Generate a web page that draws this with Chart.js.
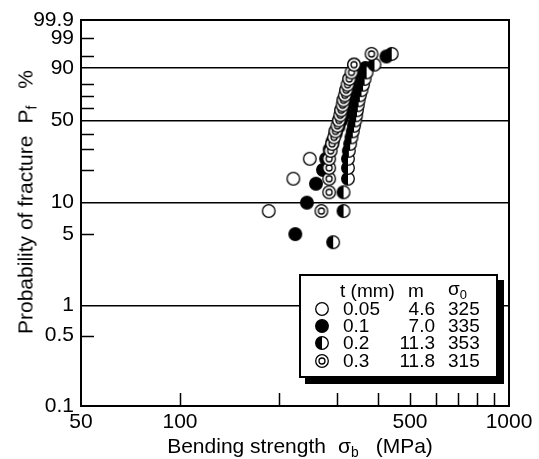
<!DOCTYPE html>
<html><head><meta charset="utf-8">
<script src="https://cdn.jsdelivr.net/npm/chart.js@4.4.1/dist/chart.umd.min.js"></script>
<style>
html,body{margin:0;padding:0;background:#fff;}
#wrap{position:relative;width:539px;height:459px;font-family:"Liberation Sans",Arial,sans-serif;color:#000;overflow:hidden;}
#c{position:absolute;left:0;top:0;}
.t{position:absolute;white-space:nowrap;font-size:21px;line-height:21px;}
.t sub{font-size:0.66em;vertical-align:-0.3em;line-height:0;}
.gap1{display:inline-block;width:12px;}
.gap2{display:inline-block;width:17px;}
#ytitle{left:25px;top:202px;transform:translate(-50%,-50%) rotate(-90deg);}
#xtitle{left:300px;top:445px;transform:translate(-50%,-50%);}
#legend{position:absolute;left:299px;top:274px;width:199px;height:104px;box-sizing:border-box;border:2px solid #000;background:#fff;box-shadow:6px 6px 0 0 #000;}
.lg{position:absolute;white-space:nowrap;font-size:19px;line-height:20px;}
.lg sub{font-size:0.68em;vertical-align:-0.3em;line-height:0;}
.sym{position:absolute;}
</style></head><body>
<div id="wrap">
<canvas id="c" width="539" height="459"></canvas>
<div id="ytitle" class="t">Probability of fracture<span class="gap1"></span>P<sub>f</sub><span class="gap2"></span>%</div>
<div id="xtitle" class="t">Bending strength<span class="gap1"></span>σ<sub>b</sub><span class="gap2"></span>(MPa)</div>
<div id="legend"></div>
<div id="legendCells"></div>
</div>
<script>
// ---- data ----
const seriesNames = ['0.05', '0.1', '0.2', '0.3'];           // t (mm)
const legendM = ['4.6', '7.0', '11.3', '11.8'];
const legendSigma0 = ['325', '335', '353', '315'];

// t = 0.05 mm (open circles)
const probOpen = [8.33, 16.67, 25, 33.33, 41.67, 50, 58.33, 66.67, 75, 83.33, 91.67];
const strOpen  = [186, 221, 248, 290, 297, 304, 309, 314, 320, 327, 338];
// t = 0.1 mm (filled circles)
const probFilled = [5, 10, 15, 20, 25, 30, 35, 40, 45, 50, 55, 60, 65, 70, 75, 80, 85, 90, 95];
const strFilled  = [224, 243, 259, 272, 278, 285, 291, 297, 303, 309, 315, 320, 326, 332, 338, 344, 351, 366, 424];
// t = 0.2 mm (half-filled circles)
const probHalf = [4.17, 8.33, 12.5, 16.67, 20.83, 25, 29.17, 33.33, 37.5, 41.67, 45.83, 50, 54.17, 58.33, 62.5, 66.67, 70.83, 75, 79.17, 83.33, 87.5, 91.67, 95.83];
const strHalf  = [292, 314, 314, 324, 324, 324, 326, 329, 332, 335, 338, 341, 343, 345, 347, 349, 352, 356, 360, 364, 369, 390, 440];
// t = 0.3 mm (double circles)
const probDouble = [8.33, 12.5, 16.67, 20.83, 25, 29.17, 33.33, 37.5, 41.67, 45.83, 50, 54.17, 58.33, 62.5, 66.67, 70.83, 75, 79.17, 83.33, 87.5, 91.67, 95.83];
const strDouble  = [269, 284, 284, 284, 284, 287, 290, 294, 297, 301, 304, 307, 309, 312, 314, 317, 320, 323, 327, 332, 338, 382];

// axis ticks
const xTickValues = [50, 100, 200, 300, 400, 500, 600, 700, 800, 900, 1000];
const xTickLabels = ['50', '100', '', '', '', '500', '', '', '', '', '1000'];
const yTickPercents = [0.1, 0.5, 1, 5, 10, 20, 30, 40, 50, 60, 70, 80, 90, 95, 99, 99.9];
const yTickLabels = ['0.1', '0.5', '1', '5', '10', '', '', '', '50', '', '', '', '90', '', '99', '99.9'];
const yGridPercents = [1, 10, 50, 90];

// ---- Weibull probability transform ----
const wb = p => Math.log(-Math.log(1 - p / 100));
const FONT = '"Liberation Sans", Arial, sans-serif';

function marker(kind) {
  const c = document.createElement('canvas');
  c.width = 16; c.height = 16;
  const g = c.getContext('2d');
  const cx = 8, cy = 8, r = 6.3;
  g.lineWidth = 1.3; g.strokeStyle = '#000';
  g.beginPath(); g.arc(cx, cy, r, 0, Math.PI * 2);
  g.fillStyle = kind === 'filled' ? '#000' : '#fff';
  g.fill();
  if (kind === 'half') {
    g.beginPath(); g.moveTo(cx, cy - r); g.arc(cx, cy, r, Math.PI * 1.5, Math.PI * 0.5, true); g.closePath();
    g.fillStyle = '#000'; g.fill();
  }
  g.beginPath(); g.arc(cx, cy, r, 0, Math.PI * 2); g.stroke();
  if (kind === 'double') {
    g.beginPath(); g.arc(cx, cy, 3, 0, Math.PI * 2); g.stroke();
  }
  return c;
}
const kinds = ['open', 'filled', 'half', 'double'];
const markers = kinds.map(marker);

const pts = (s, p) => s.map((v, i) => ({ x: v, y: wb(p[i]) }));
const dataSets = [
  { data: pts(strOpen, probOpen), order: 3 },
  { data: pts(strFilled, probFilled), order: 2 },
  { data: pts(strHalf, probHalf), order: 1 },
  { data: pts(strDouble, probDouble), order: 0 }
].map((d, i) => ({
  label: 't = ' + seriesNames[i] + ' mm',
  data: d.data, order: d.order,
  pointStyle: markers[i], pointRadius: 7, pointHoverRadius: 7,
  showLine: false
}));

const frameTicks = {
  id: 'frameTicks',
  afterDraw(chart) {
    const { ctx, chartArea: a, scales } = chart;
    ctx.save();
    ctx.strokeStyle = '#000';
    ctx.lineWidth = 1.5;
    ctx.beginPath();
    yTickPercents.forEach(p => {
      if (yGridPercents.includes(p) || p === 0.1 || p === 99.9) return;
      const y = Math.round(scales.y.getPixelForValue(wb(p))) + 0.5;
      ctx.moveTo(a.left, y); ctx.lineTo(a.left + 13, y);
    });
    xTickValues.forEach(v => {
      if (v === 50 || v === 1000) return;
      const x = Math.round(scales.x.getPixelForValue(v)) + 0.5;
      ctx.moveTo(x, a.bottom); ctx.lineTo(x, a.bottom - 13);
    });
    ctx.stroke();
    ctx.lineWidth = 2;
    ctx.strokeRect(a.left, a.top, a.right - a.left, a.bottom - a.top);
    ctx.restore();
  }
};

new Chart(document.getElementById('c'), {
  type: 'scatter',
  data: { datasets: dataSets },
  options: {
    responsive: false, animation: false, devicePixelRatio: 1,
    layout: { padding: { left: 0, right: 30, top: 20, bottom: 0 } },
    plugins: { legend: { display: false }, tooltip: { enabled: false } },
    scales: {
      x: {
        type: 'logarithmic', min: 50, max: 1000,
        afterBuildTicks: s => { s.ticks = xTickValues.map(v => ({ value: v })); },
        afterFit: s => { s.height = 53; },
        ticks: { autoSkip: false, maxRotation: 0, color: '#000', padding: 4,
                 font: { family: FONT, size: 21 }, callback: (v, i) => xTickLabels[i] },
        grid: { display: false, drawTicks: false },
        border: { display: false }
      },
      y: {
        type: 'linear', min: wb(0.1), max: wb(99.9),
        afterBuildTicks: s => { s.ticks = yTickPercents.map(p => ({ value: wb(p) })); },
        afterFit: s => { s.width = 81; },
        ticks: { autoSkip: false, color: '#000', padding: 7,
                 font: { family: FONT, size: 21 }, callback: (v, i) => yTickLabels[i] },
        grid: {
          drawTicks: false, lineWidth: 1.5,
          color: c => (c.tick && yGridPercents.some(p => Math.abs(wb(p) - c.tick.value) < 1e-9)) ? '#000' : 'rgba(0,0,0,0)'
        },
        border: { display: false }
      }
    }
  },
  plugins: [frameTicks]
});

// ---- legend (HTML text) ----
const cells = document.getElementById('legendCells');
function cell(html, css) {
  const d = document.createElement('div');
  d.className = 'lg'; d.innerHTML = html;
  Object.assign(d.style, css);
  cells.appendChild(d);
}
const headY = 291, rowY = [308.5, 326, 343, 360.5];
cell('t (mm)', { left: '340px', top: (headY - 10) + 'px' });
cell('m', { left: '416px', top: (headY - 10) + 'px', transform: 'translateX(-50%)' });
cell('σ<sub>0</sub>', { left: '448px', top: (headY - 12) + 'px' });
rowY.forEach((y, i) => {
  const img = document.createElement('img');
  img.src = markers[i].toDataURL();
  img.className = 'sym';
  img.style.left = (322 - 8) + 'px'; img.style.top = (y - 8) + 'px';
  cells.appendChild(img);
  cell(seriesNames[i], { left: '343px', top: (y - 10) + 'px' });
  cell(legendM[i], { right: (539 - 435) + 'px', top: (y - 10) + 'px' });
  cell(legendSigma0[i], { left: '448px', top: (y - 10) + 'px' });
});
</script>
</body></html>
